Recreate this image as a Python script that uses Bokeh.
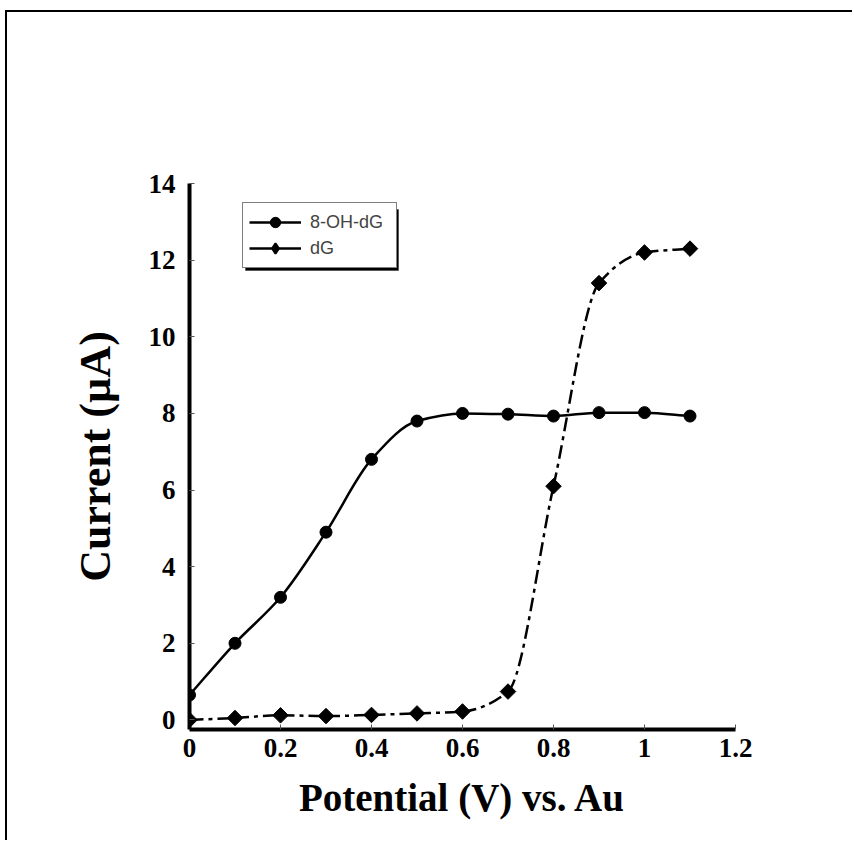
import numpy as np
from bokeh.plotting import figure
from bokeh.models import Range1d, FixedTicker, Legend, LegendItem, BoxAnnotation
from bokeh.embed import file_html
from bokeh.resources import INLINE

# ---- data ----
potential = [0.0, 0.1, 0.2, 0.3, 0.4, 0.5, 0.6, 0.7, 0.8, 0.9, 1.0, 1.1]
oh_dg = [0.65, 2.0, 3.2, 4.9, 6.8, 7.8, 8.0, 7.98, 7.93, 8.02, 8.02, 7.93]
dg = [0.0, 0.05, 0.12, 0.1, 0.13, 0.17, 0.22, 0.74, 6.1, 11.4, 12.2, 12.3]
series_names = ["8-OH-dG", "dG"]
x_ticks = [0, 0.2, 0.4, 0.6, 0.8, 1.0, 1.2]
x_tick_labels = ["0", "0.2", "0.4", "0.6", "0.8", "1", "1.2"]
y_ticks = [0, 2, 4, 6, 8, 10, 12, 14]
y_tick_labels = ["0", "2", "4", "6", "8", "10", "12", "14"]


def smooth_segments(xs, ys):
    """Monotone cubic (PCHIP) tangents turned into Bezier control points."""
    x = np.asarray(xs, float)
    y = np.asarray(ys, float)
    h = np.diff(x)
    d = np.diff(y) / h
    n = len(x)
    m = np.zeros(n)
    m[0], m[-1] = d[0], d[-1]
    for k in range(1, n - 1):
        if d[k - 1] * d[k] <= 0:
            m[k] = 0.0
        else:
            w1 = 2 * h[k] + h[k - 1]
            w2 = h[k] + 2 * h[k - 1]
            m[k] = (w1 + w2) / (w1 / d[k - 1] + w2 / d[k])
    return dict(
        x0=x[:-1], y0=y[:-1], x1=x[1:], y1=y[1:],
        cx0=x[:-1] + h / 3, cy0=y[:-1] + m[:-1] * h / 3,
        cx1=x[1:] - h / 3, cy1=y[1:] - m[1:] * h / 3,
    )


# page offset of the figure; a 2px shadow on its top/left edges reproduces
# the outer frame of the scanned figure
OFF_X = 7
OFF_Y = 12

p = figure(
    frame_width=546, frame_height=546,
    min_border_left=189 - OFF_X, min_border_right=119,
    min_border_top=183 - OFF_Y, min_border_bottom=113,
    x_range=Range1d(0, 1.2), y_range=Range1d(-0.25, 14),
    output_backend="svg", toolbar_location=None,
    background_fill_color="white", border_fill_color="white",
)
p.styles = {
    "margin-left": f"{OFF_X}px", "margin-top": f"{OFF_Y}px",
    "box-shadow": "-2px -2px 0px 0px black",
}
p.outline_line_color = None
p.grid.visible = False

serif = "Liberation Serif"

for ax in (p.xaxis[0], p.yaxis[0]):
    ax.axis_line_width = 4
    ax.axis_line_color = "black"
    ax.major_tick_in = 5
    ax.major_tick_out = 0
    ax.major_tick_line_width = 1
    ax.major_tick_line_color = "#555555"
    ax.minor_tick_line_color = None
    ax.major_label_text_font = serif
    ax.major_label_text_font_style = "bold"
    ax.major_label_text_font_size = "27px"
    ax.major_label_text_color = "black"
    ax.axis_label_text_font = serif
    ax.axis_label_text_font_style = "bold"
    ax.axis_label_text_color = "black"

p.xaxis[0].ticker = FixedTicker(ticks=x_ticks)
p.xaxis[0].major_label_overrides = {t: l for t, l in zip(x_ticks, x_tick_labels)}
p.xaxis[0].major_label_standoff = 9
p.xaxis[0].axis_label = "Potential (V) vs. Au"
p.xaxis[0].axis_label_text_font_size = "39px"
p.xaxis[0].axis_label_standoff = 16

p.yaxis[0].ticker = FixedTicker(ticks=y_ticks)
p.yaxis[0].major_label_overrides = {t: l for t, l in zip(y_ticks, y_tick_labels)}
p.yaxis[0].major_label_standoff = 14
p.yaxis[0].axis_label = "Current (\u00b5A)"
p.yaxis[0].axis_label_text_font_size = "44px"
p.yaxis[0].axis_label_standoff = 26

# curves (smoothed through the data points)
p.bezier(source=smooth_segments(potential, oh_dg), x0="x0", y0="y0", x1="x1", y1="y1",
         cx0="cx0", cy0="cy0", cx1="cx1", cy1="cy1", line_color="black", line_width=2.5)
p.bezier(source=smooth_segments(potential, dg), x0="x0", y0="y0", x1="x1", y1="y1",
         cx0="cx0", cy0="cy0", cx1="cx1", cy1="cy1", line_color="black", line_width=2.5,
         line_dash="14 5 4 5")

p.scatter(potential, oh_dg, marker="circle", size=12, fill_color="black", line_color="black")
p.scatter(potential, dg, marker="square", angle=np.pi / 4, size=11,
          fill_color="black", line_color="black")

# legend-only renderers (NaN data: nothing drawn in the plot area)
nan = [float("nan")]
leg_line1 = p.line(x=nan, y=nan, line_color="black", line_width=2.5)
leg_line2 = p.line(x=nan, y=nan, line_color="black", line_width=2.5)
leg_mark1 = p.scatter(x=nan, y=nan, marker="circle", fill_color="black", line_color="black")
leg_mark2 = p.scatter(x=nan, y=nan, marker="diamond", fill_color="black", line_color="black",
                      line_width=2)

# legend drop shadow
p.add_layout(BoxAnnotation(
    left=245 - OFF_X, right=398 - OFF_X, top=209 - OFF_Y, bottom=270 - OFF_Y,
    left_units="canvas", right_units="canvas", top_units="canvas", bottom_units="canvas",
    fill_color="black", fill_alpha=1, line_color="black",
))

legend = Legend(
    items=[LegendItem(label=series_names[0], renderers=[leg_line1, leg_mark1]),
           LegendItem(label=series_names[1], renderers=[leg_line2, leg_mark2])],
    location=(53, 461),
    margin=0, padding=6, spacing=-3,
    glyph_width=52, glyph_height=26, label_height=26, label_width=80, label_standoff=9,
    label_text_font="Liberation Sans", label_text_font_size="18px",
    border_line_color="black", border_line_width=1.5,
    background_fill_color="white", background_fill_alpha=1,
)
p.add_layout(legend)

open("out.html", "w").write(file_html(p, INLINE))
